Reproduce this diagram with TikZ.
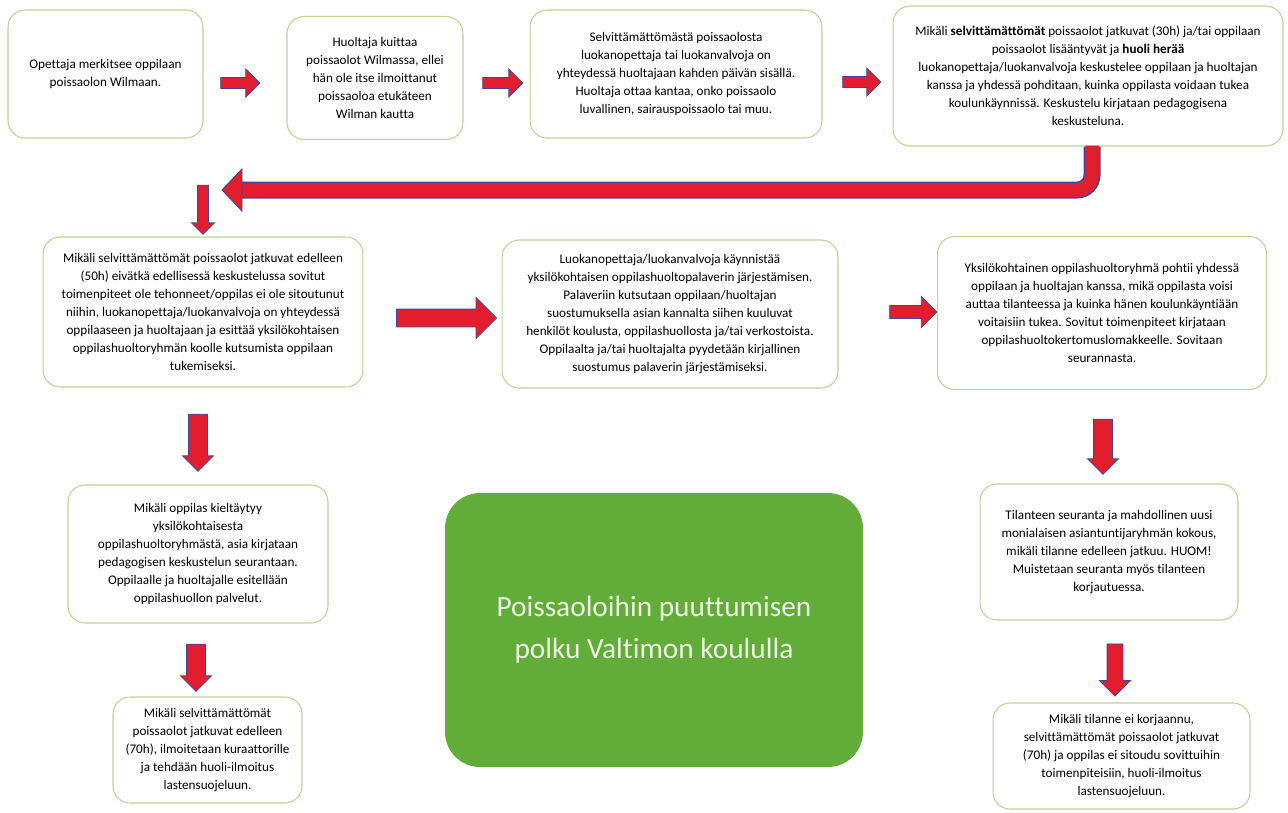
\documentclass[tikz,border=0pt]{standalone}
\usepackage{fontspec}
\setmainfont[Ligatures=NoCommon]{Carlito}
\usetikzlibrary{shapes.arrows}

\definecolor{boxline}{RGB}{188,212,148}
\definecolor{arrowred}{RGB}{226,30,46}
\definecolor{arrowline}{RGB}{70,70,150}
\definecolor{titlegreen}{RGB}{98,172,58}
\definecolor{titletext}{RGB}{236,245,226}

\begin{document}
\begin{tikzpicture}[x=0.02cm, y=-0.02cm,
  box/.style={draw=boxline, line width=0.6pt, rounded corners=0.34cm, align=center,
    inner sep=2pt, text=black, font=\fontsize{7.5}{10.2}\selectfont},
  blk/.style={single arrow, draw=arrowline, fill=arrowred, line width=0.5pt,
    inner sep=0pt, single arrow head extend=0.16cm},
  down/.style={blk, rotate=-90}]

\useasboundingbox (0,0) rectangle (1288,812);

% top row
\node[box, minimum width=3.9cm, minimum height=2.56cm] (b1) at (105.5,74)
  {Opettaja merkitsee oppilaan\\poissaolon Wilmaan.};
\node[box, minimum width=3.52cm, minimum height=2.46cm] (b2) at (375,78)
  {Huoltaja kuittaa\\poissaolot Wilmassa, ellei\\hän ole itse ilmoittanut\\poissaoloa etukäteen\\Wilman kautta};
\node[box, minimum width=5.84cm, minimum height=2.56cm] (b3) at (676,74)
  {Selvittämättömästä poissaolosta\\luokanopettaja tai luokanvalvoja on\\yhteydessä huoltajaan kahden päivän sisällä.\\Huoltaja ottaa kantaa, onko poissaolo\\luvallinen, sairauspoissaolo tai muu.};
\node[box, minimum width=7.8cm, minimum height=2.8cm] (b4) at (1088,76)
  {Mikäli \textbf{selvittämättömät} poissaolot jatkuvat (30h) ja/tai oppilaan\\poissaolot lisääntyvät ja \textbf{huoli herää}\\luokanopettaja/luokanvalvoja keskustelee oppilaan ja huoltajan\\kanssa ja yhdessä pohditaan, kuinka oppilasta voidaan tukea\\koulunkäynnissä. Keskustelu kirjataan pedagogisena\\keskusteluna.};

\node[blk, minimum height=0.78cm, single arrow head extend=0.17cm] (a1) at (237.5,83) {\rule{0pt}{0.2cm}};
\node[blk, minimum height=0.8cm, single arrow head extend=0.17cm] (a2) at (500,83) {\rule{0pt}{0.2cm}};
\node[blk, minimum height=0.76cm, single arrow head extend=0.17cm] (a3) at (859,82) {\rule{0pt}{0.2cm}};

% long bent arrow back to the left
\coordinate (bigtip) at (222,190);
\draw[arrowline, line width=0.34cm, rounded corners=0.3cm] (b4.south -| 1092,0) |- (241,190);
\draw[arrowred, line width=0.27cm, rounded corners=0.3cm] ([yshift=0.5pt]b4.south -| 1092,0) |- (242,190);
\filldraw[fill=arrowred, draw=arrowline, line width=0.5pt] (242,169) -- (bigtip) -- (242,211) -- cycle;
\node[down, minimum height=0.98cm, single arrow head extend=0.12cm] (a4) at (203,207) {\rule{0pt}{0.2cm}};

% middle row
\node[box, minimum width=6.4cm, minimum height=3cm] (b5) at (203,312)
  {Mikäli selvittämättömät poissaolot jatkuvat edelleen\\(50h) eivätkä edellisessä keskustelussa sovitut\\toimenpiteet ole tehonneet/oppilas ei ole sitoutunut\\niihin, luokanopettaja/luokanvalvoja on yhteydessä\\oppilaaseen ja huoltajaan ja esittää yksilökohtaisen\\oppilashuoltoryhmän koolle kutsumista oppilaan\\tukemiseksi.};
\node[box, minimum width=6.72cm, minimum height=2.96cm] (b6) at (670,314)
  {Luokanopettaja/luokanvalvoja käynnistää\\yksilökohtaisen oppilashuoltopalaverin järjestämisen.\\Palaveriin kutsutaan oppilaan/huoltajan\\suostumuksella asian kannalta siihen kuuluvat\\henkilöt koulusta, oppilashuollosta ja/tai verkostoista.\\Oppilaalta ja/tai huoltajalta pyydetään kirjallinen\\suostumus palaverin järjestämiseksi.};
\node[box, minimum width=6.58cm, minimum height=3.06cm] (b7) at (1102,313)
  {Yksilökohtainen oppilashuoltoryhmä pohtii yhdessä\\oppilaan ja huoltajan kanssa, mikä oppilasta voisi\\auttaa tilanteessa ja kuinka hänen koulunkäyntiään\\voitaisiin tukea. Sovitut toimenpiteet kirjataan\\oppilashuoltokertomuslomakkeelle. Sovitaan\\seurannasta.};

\node[blk, minimum height=2cm, single arrow head extend=0.23cm] (a5) at (442,318) {\rule{0pt}{0.34cm}};
\node[blk, minimum height=0.94cm, single arrow head extend=0.18cm] (a6) at (910,312) {\rule{0pt}{0.24cm}};

% left column
\node[down, minimum height=1.14cm, single arrow head extend=0.12cm] (a7) at (198,438) {\rule{0pt}{0.36cm}};
\node[box, minimum width=5.2cm, minimum height=2.76cm] (b8) at (198,554)
  {Mikäli oppilas kieltäytyy\\yksilökohtaisesta\\oppilashuoltoryhmästä, asia kirjataan\\pedagogisen keskustelun seurantaan.\\Oppilaalle ja huoltajalle esitellään\\oppilashuollon palvelut.};
\node[down, minimum height=0.94cm, single arrow head extend=0.12cm] (a8) at (196,663) {\rule{0pt}{0.36cm}};
\node[box, minimum width=3.78cm, minimum height=2.12cm] (b9) at (207.5,750)
  {Mikäli selvittämättömät\\poissaolot jatkuvat edelleen\\(70h), ilmoitetaan kuraattorille\\ja tehdään huoli-ilmoitus\\lastensuojeluun.};

% right column
\node[down, minimum height=1.1cm, single arrow head extend=0.12cm] (a9) at (1103,442) {\rule{0pt}{0.36cm}};
\node[box, minimum width=5.16cm, minimum height=2.72cm] (b10) at (1109,552)
  {Tilanteen seuranta ja mahdollinen uusi\\monialaisen asiantuntijaryhmän kokous,\\mikäli tilanne edelleen jatkuu. HUOM!\\Muistetaan seuranta myös tilanteen\\korjautuessa.};
\node[down, minimum height=1.04cm, single arrow head extend=0.15cm] (a10) at (1115,666) {\rule{0pt}{0.3cm}};
\node[box, minimum width=5.14cm, minimum height=2.12cm] (b11) at (1121.5,756)
  {Mikäli tilanne ei korjaannu,\\selvittämättömät poissaolot jatkuvat\\(70h) ja oppilas ei sitoudu sovittuihin\\toimenpiteisiin, huoli-ilmoitus\\lastensuojeluun.};

% title
\node[fill=titlegreen, rounded corners=0.7cm, minimum width=8.36cm, minimum height=5.48cm,
  align=center, text=titletext, font=\fontsize{16.7}{24}\selectfont] (title) at (654,630)
  {Poissaoloihin puuttumisen\\polku Valtimon koululla};

\end{tikzpicture}
\end{document}
